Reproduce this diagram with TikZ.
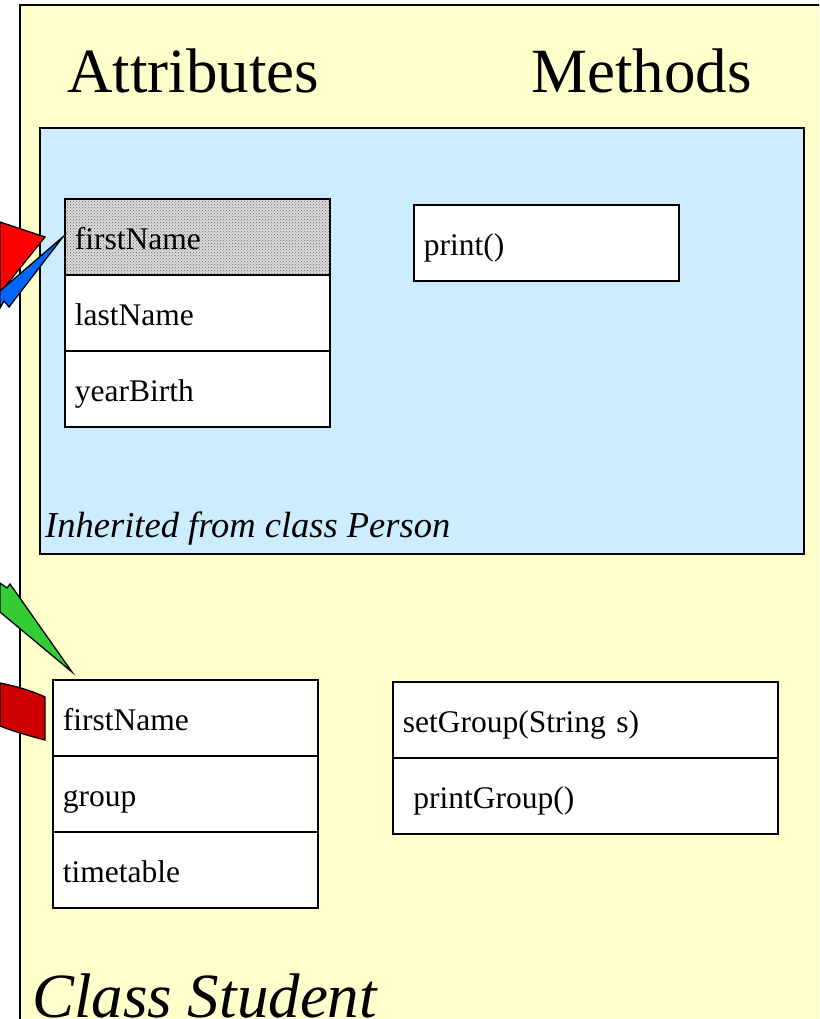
\documentclass[tikz,border=0pt]{standalone}
\usepackage{fontspec}
\setmainfont{Liberation Serif}
\usetikzlibrary{patterns}
\definecolor{slideyellow}{RGB}{255,255,204}
\definecolor{inheritblue}{RGB}{204,236,255}
\definecolor{callred}{RGB}{255,0,0}
\definecolor{calldarkred}{RGB}{204,0,0}
\definecolor{callblue}{RGB}{0,102,255}
\definecolor{callgreen}{RGB}{51,204,51}

\begin{document}
\begin{tikzpicture}[
  x=1pt, y=-1pt,
  slot/.style={draw, line width=1.6pt, fill=white, inner xsep=10pt, inner ysep=0pt,
    minimum height=76pt, text width=245pt, text height=30pt, text depth=4pt,
    align=left, anchor=north west, font=\fontsize{31.5}{34}\selectfont},
  wideslot/.style={slot, text width=365pt},
  marked/.style={preaction={fill=black!14}, pattern=crosshatch dots, pattern color=black!60},
  heading/.style={inner sep=0pt, anchor=base west, font=\fontsize{63}{66}\selectfont},
  callout/.style={draw, line width=1.3pt, line join=miter},
]
  \path[use as bounding box, fill=white] (0,0) rectangle (819,1019);
  \clip (0,0) rectangle (819,1019);

  % class frame and the inherited part
  \draw[line width=1.8pt, fill=slideyellow] (20,5) rectangle (840,1040);
  \draw[line width=1.6pt, fill=inheritblue] (40,128) rectangle (804,554);

  \node[heading] (attr) at (67,93) {Attributes};
  \node[heading] (meth) at (531,93) {Methods};

  \foreach \i/\lab in {1/firstName, 2/lastName, 3/yearBirth} {
    \ifnum\i=1
      \node[slot, marked] (P\i) at (64,{198+76*(\i-1)}) {\lab};
    \else
      \node[slot] (P\i) at (64,{198+76*(\i-1)}) {\lab};
    \fi
  }
  \node[slot] (Pprint) at (413,204) {print()};
  \node[inner sep=0pt, anchor=base west, font=\fontsize{36.5}{40}\selectfont\itshape]
    (inh) at (45,537) {Inherited from class Person};

  \foreach \i/\lab in {1/firstName, 2/group, 3/timetable} {
    \node[slot] (S\i) at (52,{679+76*(\i-1)}) {\lab};
  }
  \node[wideslot] (M1) at (392,681) {setGroup(String s)};
  \node[wideslot] (M2) at (392,757) {\ printGroup()};

  \node[heading, font=\fontsize{63}{66}\selectfont\itshape] (cls) at (32,1017) {Class Student};

  % pointers coming in from the left
  \draw[callout, fill=callred] (0,222) -- (45,237) -- (0,293) -- cycle;
  \draw[callout, fill=callblue] ([xshift=-1pt]P1.west) -- (0,291) -- (0,308) -- (4,301) -- (9,307) -- cycle;
  \draw[callout, fill=callgreen] (0,583) -- (7,588) -- (10,584) -- ([shift={(20,-7)}]S1.north west) -- (0,612) -- cycle;
  \draw[callout, fill=calldarkred] (0,683) .. controls (15,686) and (30,690) .. (45,697)
    -- (45,740) .. controls (30,736) and (15,732) .. (0,726) -- cycle;
\end{tikzpicture}
\end{document}
